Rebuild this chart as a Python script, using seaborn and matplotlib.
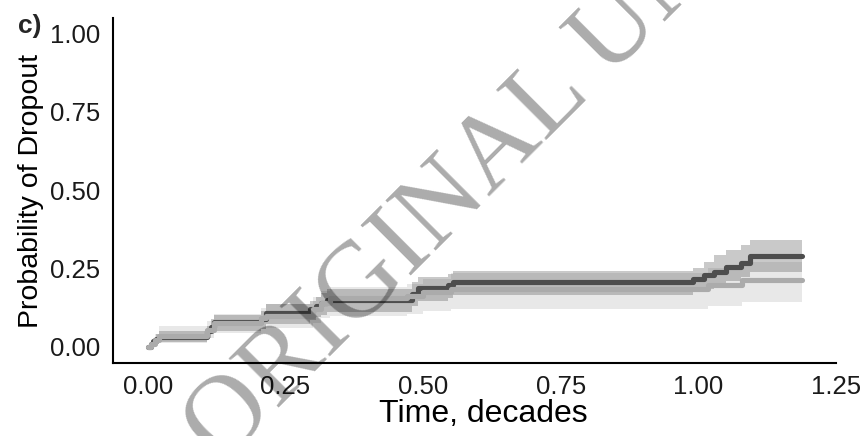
import numpy as np
import pandas as pd
import matplotlib
matplotlib.use("Agg")
import matplotlib.pyplot as plt
import seaborn as sns

# ---- data ----
dark_time = [0.000, 0.005, 0.010, 0.015, 0.020, 0.108, 0.115, 0.120, 0.205, 0.215, 0.295, 0.305, 0.315,
             0.325, 0.480, 0.490, 0.545, 0.555, 0.990, 1.010, 1.028, 1.050, 1.078, 1.095, 1.188]
dark_prob = [0.000, 0.008, 0.018, 0.025, 0.031, 0.050, 0.065, 0.079, 0.090, 0.108, 0.120, 0.130, 0.140,
             0.150, 0.170, 0.187, 0.197, 0.206, 0.215, 0.228, 0.240, 0.255, 0.268, 0.290, 0.290]
dark_low = [0.000, 0.002, 0.007, 0.011, 0.015, 0.028, 0.040, 0.050, 0.058, 0.074, 0.085, 0.094, 0.103,
            0.112, 0.130, 0.146, 0.156, 0.166, 0.174, 0.186, 0.197, 0.210, 0.222, 0.240, 0.240]
dark_high = [0.000, 0.016, 0.030, 0.040, 0.050, 0.068, 0.088, 0.102, 0.116, 0.136, 0.148, 0.160, 0.172,
             0.184, 0.206, 0.222, 0.232, 0.241, 0.252, 0.270, 0.292, 0.309, 0.325, 0.341, 0.341]

light_time = [0.000, 0.005, 0.012, 0.020, 0.108, 0.120, 0.205, 0.215, 0.300, 0.315, 0.330, 0.470,
              0.500, 0.550, 1.018, 1.080, 1.188]
light_prob = [0.000, 0.010, 0.022, 0.035, 0.055, 0.076, 0.092, 0.100, 0.120, 0.140, 0.156, 0.163,
              0.175, 0.184, 0.197, 0.214, 0.214]
light_low = [0.000, 0.002, 0.008, 0.014, 0.030, 0.046, 0.058, 0.062, 0.078, 0.092, 0.100, 0.106,
             0.114, 0.122, 0.131, 0.143, 0.143]
light_high = [0.000, 0.020, 0.042, 0.068, 0.082, 0.106, 0.124, 0.138, 0.160, 0.178, 0.190, 0.200,
              0.216, 0.236, 0.252, 0.272, 0.272]

x_ticks = [0.00, 0.25, 0.50, 0.75, 1.00, 1.25]
x_tick_labels = ["0.00", "0.25", "0.50", "0.75", "1.00", "1.25"]
y_ticks = [0.00, 0.25, 0.50, 0.75, 1.00]
y_tick_labels = ["0.00", "0.25", "0.50", "0.75", "1.00"]

sns.set_style("white")
plt.rcParams["font.family"] = ["Liberation Sans", "DejaVu Sans"]

df = pd.concat([
    pd.DataFrame({"time": dark_time, "prob": dark_prob, "group": "A"}),
    pd.DataFrame({"time": light_time, "prob": light_prob, "group": "B"}),
], ignore_index=True)

fig = plt.figure(figsize=(8.67, 4.36), dpi=100)
ax = fig.add_axes([113 / 867, 1 - 363 / 436, (836 - 113) / 867, (363 - 18) / 436])

ax.fill_between(light_time, light_low, light_high, step="post", color="#b3b3b3", alpha=0.3, linewidth=0)
ax.fill_between(dark_time, dark_low, dark_high, step="post", color="#4d4d4d", alpha=0.3, linewidth=0)

sns.lineplot(data=df, x="time", y="prob", hue="group", hue_order=["A", "B"],
             palette={"A": "#4d4d4d", "B": "#ababab"}, drawstyle="steps-post",
             estimator=None, sort=False, linewidth=3.7, legend=False, ax=ax)

ax.set_xlim(-0.0636, 1.2505)
ax.set_ylim(-0.051, 1.048)
ax.set_xticks(x_ticks)
ax.set_xticklabels(x_tick_labels)
ax.set_yticks(y_ticks)
ax.set_yticklabels(y_tick_labels)

for s in ["top", "right"]:
    ax.spines[s].set_visible(False)
for s in ["left", "bottom"]:
    ax.spines[s].set_linewidth(1.5)
    ax.spines[s].set_color("black")
ax.tick_params(axis="both", which="major", length=4.5, width=1.4, color="#333333",
               labelsize=18.5, labelcolor="#1a1a1a", pad=4)
ax.tick_params(axis="y", pad=4.5)
ax.grid(False)

ax.set_xlabel("Time, decades", fontsize=23, color="black")
ax.set_ylabel("Probability of Dropout", fontsize=20.5, color="black")
ax.xaxis.set_label_coords(0.512, -0.105)
ax.yaxis.set_label_coords(-0.096, 0.5)

fig.text(18 / 867, 1 - 33 / 436, "c)", fontsize=19, fontweight="bold", ha="left", va="baseline")

fig.text(221 / 867, 1 - 465 / 436, "ORIGINAL UNEDITED MANUSCRIPT", rotation=45,
         rotation_mode="anchor", ha="left", va="baseline", fontsize=78,
         family=["Liberation Serif", "DejaVu Serif"], color="black", alpha=0.33, zorder=10)

fig.savefig("out.png", dpi=100)
